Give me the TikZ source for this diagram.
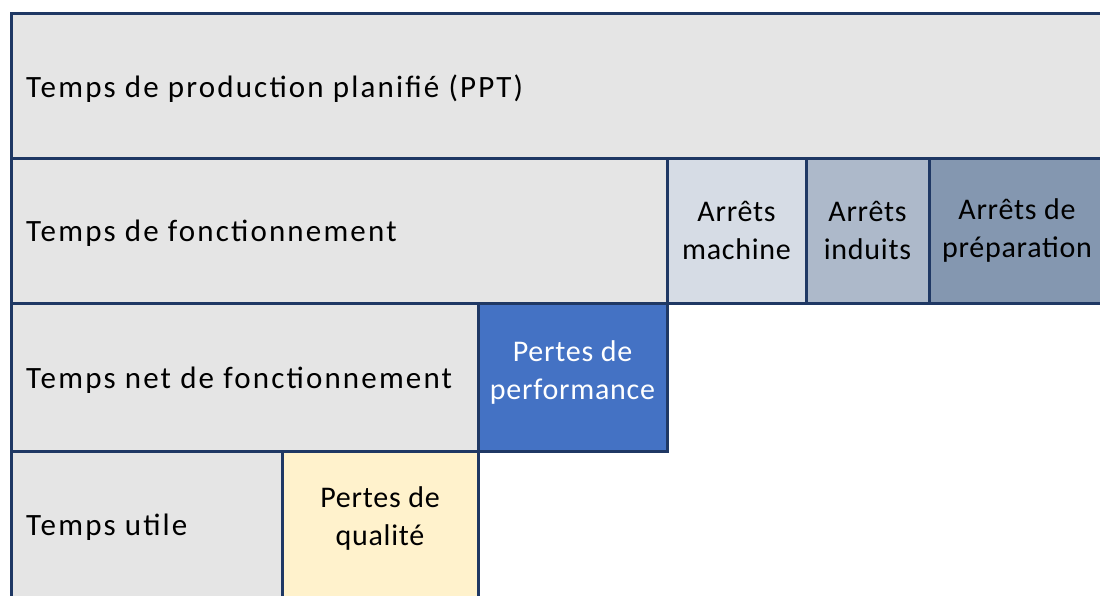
\documentclass[tikz,border=0pt]{standalone}
\usepackage{fontspec}
\setmainfont{Carlito}
\newfontfamily\rowfont[LetterSpace=7]{Carlito}
\newfontfamily\boxfont[LetterSpace=2.5]{Carlito}
\usepackage{xcolor}
\usepackage{tikz}
\usetikzlibrary{positioning}

\definecolor{navy}{HTML}{1F3864}
\definecolor{cellgray}{HTML}{E5E5E5}
\definecolor{stopA}{HTML}{D6DCE5}
\definecolor{stopB}{HTML}{ADB9CA}
\definecolor{stopC}{HTML}{8497B0}
\definecolor{perfblue}{HTML}{4472C4}
\definecolor{qualyellow}{HTML}{FFF2CC}

\begin{document}
\begin{tikzpicture}[x=1pt,y=-1pt]

\useasboundingbox (0,0) rectangle (1100,595);
\clip (0,0) rectangle (1100,595);

\tikzstyle{cell} = [draw=navy, line width=3pt, rectangle, fill=cellgray, inner sep=0pt, align=center, font=\boxfont\fontsize{30}{38}\selectfont]
\tikzstyle{lbl} = [inner sep=0pt, yshift=-3pt, font=\rowfont\fontsize{31}{38}\selectfont]

% rows of time
\node (ppt) [cell,minimum width=1093.5pt,minimum height=144.5pt] at (558.25,85.75) {};
\node (fonct) [cell,minimum width=655.5pt,minimum height=145pt] at (339.25,230.5) {};
\node (netf) [cell,minimum width=466.5pt,minimum height=148pt] at (244.75,377) {};
\node (utile) [cell,minimum width=270.5pt,minimum height=147pt] at (146.75,524.5) {};

\node (ppttext) [lbl,right=16pt of ppt.west] {Temps de production planifié (PPT)};
\node (foncttext) [lbl,right=16pt of fonct.west] {Temps de fonctionnement};
\node (netftext) [lbl,right=16pt of netf.west] {Temps net de fonctionnement};
\node (utiletext) [lbl,right=16pt of utile.west] {Temps utile};

% losses
\node (amach) [cell,fill=stopA,minimum width=139pt,minimum height=145pt] at (736.5,230.5) {Arrêts\\machine};
\node (aind) [cell,fill=stopB,minimum width=123pt,minimum height=145pt] at (867.5,230.5) {Arrêts\\induits};
\node (aprep) [cell,fill=stopC,minimum width=176pt,minimum height=145pt] at (1017,230.5) {Arrêts de\\préparation};
\node (perf) [cell,fill=perfblue,minimum width=189pt,minimum height=148pt] at (572.5,377) {};
\node (perftext) [cell,draw=none,fill=none,text=white] at (572.5,372) {Pertes de\\performance};
\node (qual) [cell,fill=qualyellow,minimum width=196pt,minimum height=147pt] at (380,524.5) {};
\node (qualtext) [cell,draw=none,fill=none] at (380,518) {Pertes de\\qualité};

\end{tikzpicture}
\end{document}
